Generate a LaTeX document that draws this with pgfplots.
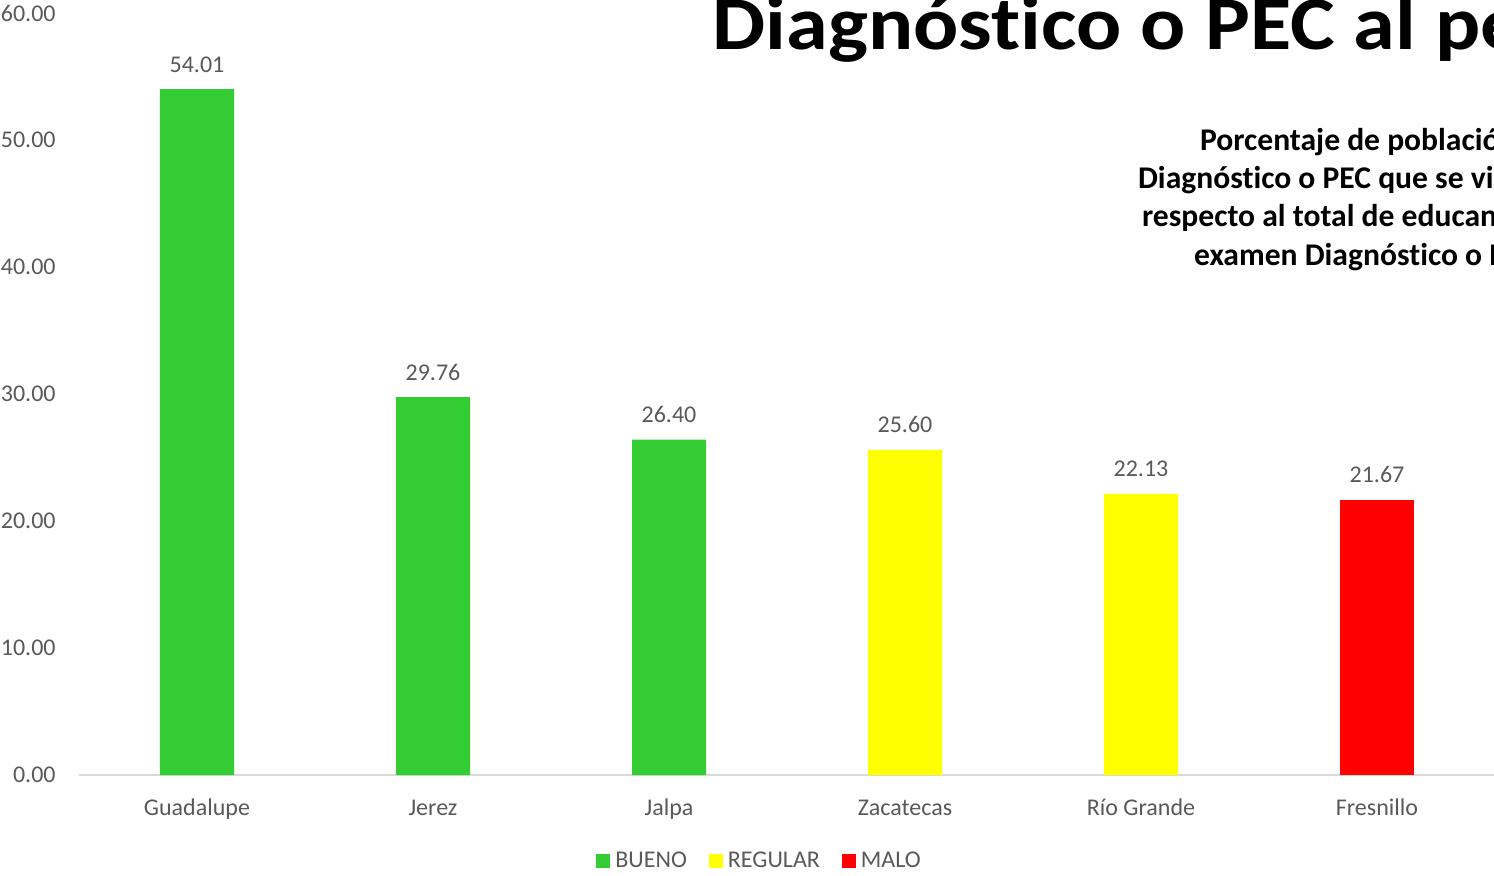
\documentclass[border=0pt]{standalone}
\usepackage{fontspec}
\setmainfont{Carlito}[Ligatures=NoCommon]
\usepackage{pgfplots}
\pgfplotsset{compat=1.18}

\definecolor{bueno}{RGB}{51,204,51}
\definecolor{regular}{RGB}{255,255,0}
\definecolor{malo}{RGB}{255,0,0}
\definecolor{txt}{RGB}{89,89,89}
\definecolor{axl}{RGB}{217,217,217}

\pgfkeys{/pgf/number format/.cd, fixed, fixed zerofill, precision=2, assume math mode=true}

\begin{document}
\begin{tikzpicture}
% the reference is a crop of a wider chart: keep the same window
\path[use as bounding box, clip] (0pt,0pt) rectangle (747pt,437.5pt);

\begin{axis}[
    at={(39.5pt,50pt)}, anchor=south west,
    scale only axis, width=708pt, height=381pt,
    ybar, bar width=37pt, bar shift=0pt,
    xmin=-0.5, xmax=5.5, ymin=0, ymax=60,
    xtick={0,...,5},
    xticklabels={Guadalupe,Jerez,Jalpa,Zacatecas,Río Grande,Fresnillo},
    ytick={0,10,...,60},
    yticklabel style={/pgf/number format/fixed, /pgf/number format/fixed zerofill,
        /pgf/number format/precision=2, anchor=east, inner sep=0pt, xshift=-11.5pt},
    xticklabel style={anchor=base, yshift=-20pt},
    tick label style={font=\fontsize{12}{14}\selectfont, text=txt},
    major tick length=0pt,
    axis y line*=left, axis x line*=bottom,
    y axis line style={draw=none},
    x axis line style={axl, line width=1pt},
    nodes near coords,
    nodes near coords style={/pgf/number format/fixed, /pgf/number format/fixed zerofill,
        /pgf/number format/precision=2},
    every node near coord/.append style={anchor=base, yshift=8.5pt,
        font=\fontsize{12}{14}\selectfont, text=txt},
    legend columns=3,
    legend style={at={(axis description cs:0.3651,-0.1129)}, anchor=west,
        draw=none, fill=none, inner sep=0pt,
        font=\fontsize{12}{14}\selectfont, text=txt,
        nodes={inner xsep=2.5pt},
        /tikz/every even column/.append style={column sep=8.5pt}},
    legend image code/.code={\fill[#1] (0pt,-3.5pt) rectangle (7pt,3.5pt);},
]
\addplot[fill=bueno, draw=none] coordinates {(0,54.01) (1,29.76) (2,26.40)};
\addplot[fill=regular, draw=none] coordinates {(3,25.60) (4,22.13)};
\addplot[fill=malo, draw=none] coordinates {(5,21.67)};
\legend{BUENO,REGULAR,MALO}
\end{axis}

\node[anchor=base west, xscale=1.11, inner sep=0pt, font=\fontsize{38}{40}\selectfont\bfseries]
    at (356pt,412.5pt) {Diagnóstico o PEC al periodo};
\begin{scope}[every node/.style={anchor=base west, font=\fontsize{15.8}{18}\selectfont\bfseries}]
\node at (596.5pt,362pt) {Porcentaje de población con};
\node at (565.5pt,343pt) {Diagnóstico o PEC que se vincularon};
\node at (567.5pt,324pt) {respecto al total de educandos con};
\node at (593.5pt,305pt) {examen Diagnóstico o PEC};
\end{scope}
\end{tikzpicture}
\end{document}
